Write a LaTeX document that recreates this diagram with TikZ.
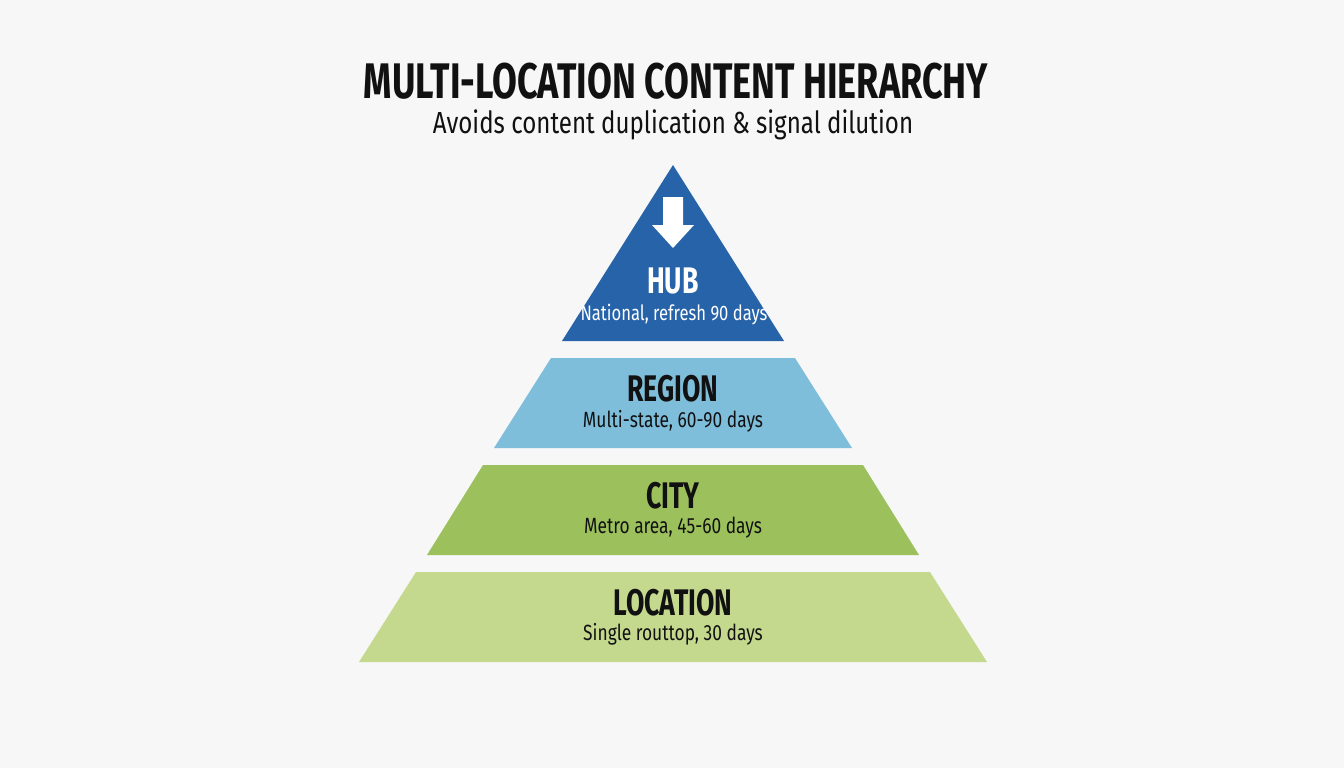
\documentclass[tikz,border=0pt]{standalone}
\usepackage{fontspec}
\setmainfont{Fira Sans}[FakeStretch=0.72]
\newfontfamily\notefont{Fira Sans}[FakeStretch=0.79]
\usetikzlibrary{positioning}
\definecolor{bgray}{HTML}{F7F7F7}
\definecolor{hubblue}{HTML}{2763A9}
\definecolor{regblue}{HTML}{7EBEDB}
\definecolor{citygreen}{HTML}{9CC15C}
\definecolor{locgreen}{HTML}{C4D98E}
\definecolor{ink}{HTML}{111111}
\tikzset{
  tiername/.style={inner sep=0pt,text=ink,font=\fontsize{37}{39}\selectfont\bfseries},
  tiernote/.style={inner sep=0pt,text=ink,font=\notefont\fontsize{22}{24}\selectfont},
}

\begin{document}
\begin{tikzpicture}[x=1pt,y=-1pt]
	\fill[bgray] (0,0) rectangle (1344,768);
	\useasboundingbox (0,0) rectangle (1344,768);
	% heading
	\node (title) [inner sep=0pt,text=ink,font=\fontsize{50}{52}\selectfont\bfseries] at (676,81) {MULTI-LOCATION CONTENT HIERARCHY};
	\node (subtitle) [inner sep=0pt,text=ink,font=\notefont\fontsize{30.5}{32}\selectfont] at (673,125) {Avoids content duplication \& signal dilution};
	% pyramid tiers
	\fill[hubblue] (673,165) -- (784,341) -- (562,341) -- cycle;
	\fill[regblue] (551,358) -- (795,358) -- (852,448) -- (494,448) -- cycle;
	\fill[citygreen] (483,465) -- (863,465) -- (919,555) -- (427,555) -- cycle;
	\fill[locgreen] (416,572) -- (930,572) -- (987,662) -- (359,662) -- cycle;
	% arrow in the hub
	\fill[white] (663,197) -- (683,197) -- (683,225) -- (694,225) -- (673,248) -- (652,225) -- (663,225) -- cycle;
	% labels
	\node (hub) [tiername,text=white] at (673,281) {HUB};
	\node (hubnote) [tiernote,text=white,font=\notefont\fontsize{21}{23}\selectfont] at (674,315) {National, refresh 90 days};
	\node (region) [tiername] at (673,389) {REGION};
	\node (regionnote) [tiernote] at (673,421) {Multi-state, 60-90 days};
	\node (city) [tiername] at (673,496) {CITY};
	\node (citynote) [tiernote] at (673,528) {Metro area, 45-60 days};
	\node (location) [tiername] at (673,603) {LOCATION};
	\node (locationnote) [tiernote] at (673,634) {Single routtop, 30 days};
\end{tikzpicture}
\end{document}
